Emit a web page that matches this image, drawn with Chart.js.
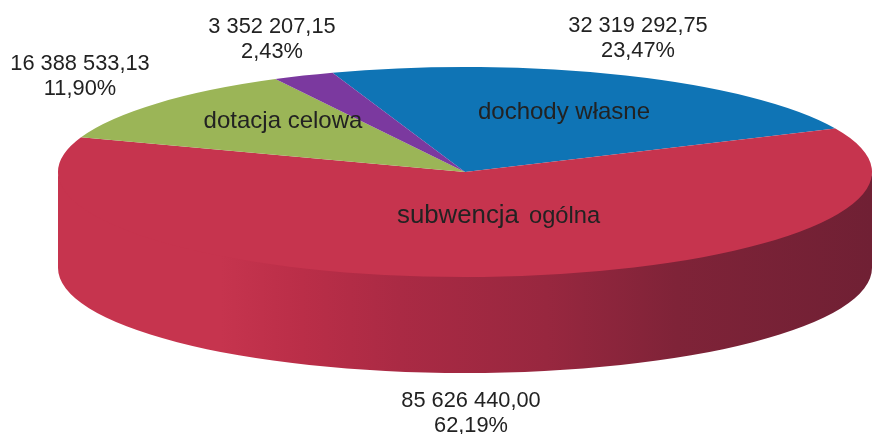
<!DOCTYPE html>
<html>
<head>
<meta charset="utf-8">
<style>
  html, body { margin: 0; padding: 0; background: #fff; }
  canvas { display: block; }
</style>
<script src="https://cdn.jsdelivr.net/npm/chart.js@4/dist/chart.umd.min.js"></script>
</head>
<body>
<canvas id="myChart" width="872" height="434"></canvas>
<script>
const categories = ['dochody własne', 'subwencja ogólna', 'dotacja celowa', ''];
const values = [32319292.75, 85626440.00, 16388533.13, 3352207.15];
const valueLabels = ['32 319 292,75', '85 626 440,00', '16 388 533,13', '3 352 207,15'];
const percentLabels = ['23,47%', '62,19%', '11,90%', '2,43%'];
const colors = ['#0f74b5', '#c6344e', '#9bb557', '#7b399f'];

// where the text goes, same order as the data
const valuePos = [[638, 32], [471, 407], [80, 70], [272, 33]];
const namePos = [[564, 119], [397, 223], [283, 128], null];

const squash = 105 / 407; // flattens the round pie to the ellipse
const depth = 96;

// rim of the pie, drawn under the top face
const sidePlugin = {
    id: 'side',
    beforeDatasetsDraw(chart) {
        const ctx = chart.ctx;
        const arcs = chart.getDatasetMeta(0).data;
        const cx = arcs[0].x, cy = arcs[0].y, r = arcs[0].outerRadius;

        const grad = ctx.createLinearGradient(cx - r, 0, cx + r, 0);
        grad.addColorStop(0, '#c6344e');
        grad.addColorStop(0.2, '#c6344e');
        grad.addColorStop(0.3, '#ba2e48');
        grad.addColorStop(0.42, '#aa2a44');
        grad.addColorStop(0.6, '#98273f');
        grad.addColorStop(0.76, '#7f2338');
        grad.addColorStop(1, '#702034');

        arcs.forEach(arc => {
            // only the front half of the rim can be seen
            const a0 = Math.max(arc.startAngle, 0);
            const a1 = Math.min(arc.endAngle, Math.PI);
            if (a1 <= a0) return;
            ctx.beginPath();
            // upper edge sits 2px under the top face so no seam shows
            ctx.ellipse(cx, cy - 2, r, r * squash, 0, a0, a1);
            ctx.ellipse(cx, cy + depth, r, r * squash, 0, a1, a0, true);
            ctx.closePath();
            ctx.fillStyle = grad;
            ctx.fill();
        });

        ctx.save();
        ctx.translate(0, cy);
        ctx.scale(1, squash);
        ctx.translate(0, -cy);
    },
    afterDatasetsDraw(chart) {
        chart.ctx.restore();
    },
    afterDraw(chart) {
        const ctx = chart.ctx;
        ctx.save();
        ctx.fillStyle = '#222';
        ctx.textBaseline = 'alphabetic';

        ctx.font = '21.8px "Liberation Sans"';
        ctx.textAlign = 'center';
        valueLabels.forEach((label, i) => {
            ctx.fillText(label, valuePos[i][0], valuePos[i][1]);
            ctx.fillText(percentLabels[i], valuePos[i][0], valuePos[i][1] + 25);
        });

        ctx.textAlign = 'left';
        categories.forEach((name, i) => {
            if (!namePos[i]) return;
            const x = namePos[i][0], y = namePos[i][1];
            if (name === 'subwencja ogólna') {
                // second word is smaller in the original
                const parts = name.split(' ');
                ctx.font = '25.8px "Liberation Sans"';
                ctx.fillText(parts[0], x, y);
                ctx.font = '23.7px "Liberation Sans"';
                ctx.fillText(parts[1], x + 132, y);
            } else {
                ctx.font = '24px "Liberation Sans"';
                ctx.textAlign = 'center';
                ctx.fillText(name, x, y);
                ctx.textAlign = 'left';
            }
        });
        ctx.restore();
    }
};

const ctx = document.getElementById('myChart');
const myChart = new Chart(ctx, {
    type: 'pie',
    data: {
        labels: categories,
        datasets: [{
            data: values,
            backgroundColor: colors,
            borderWidth: 0,
            hoverOffset: 0
        }]
    },
    options: {
        responsive: false,
        animation: false,
        rotation: -19,
        radius: 407,
        layout: { padding: { left: 58, right: 0, top: 0, bottom: 90 } },
        plugins: {
            legend: { display: false },
            tooltip: { enabled: false }
        }
    },
    plugins: [sidePlugin]
});
</script>
</body>
</html>
